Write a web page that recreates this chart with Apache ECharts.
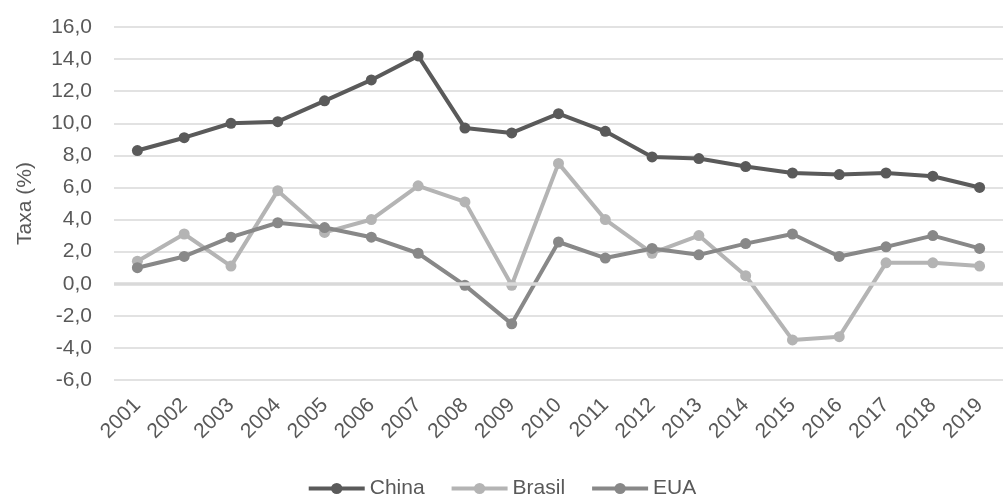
<!DOCTYPE html>
<html>
<head>
<meta charset="utf-8">
<script src="https://cdn.jsdelivr.net/npm/echarts@6/dist/echarts.min.js"></script>
<style>
html,body{margin:0;padding:0;background:#fff;}
#chart{width:1003px;height:500px;}
</style>
</head>
<body>
<div id="chart"></div>
<script>
var years = ['2001','2002','2003','2004','2005','2006','2007','2008','2009','2010','2011','2012','2013','2014','2015','2016','2017','2018','2019'];
var china = [8.3, 9.1, 10.0, 10.1, 11.4, 12.7, 14.2, 9.7, 9.4, 10.6, 9.5, 7.9, 7.8, 7.3, 6.9, 6.8, 6.9, 6.7, 6.0];
var brasil = [1.4, 3.1, 1.1, 5.8, 3.2, 4.0, 6.1, 5.1, -0.1, 7.5, 4.0, 1.9, 3.0, 0.5, -3.5, -3.3, 1.3, 1.3, 1.1];
var eua = [1.0, 1.7, 2.9, 3.8, 3.5, 2.9, 1.9, -0.1, -2.5, 2.6, 1.6, 2.2, 1.8, 2.5, 3.1, 1.7, 2.3, 3.0, 2.2];
var seriesNames = ['China', 'Brasil', 'EUA'];

var colors = ['#5a5a5a', '#b4b4b4', '#888888'];
var txt = '#595959';
var font = 'Liberation Sans';
var fs = 21;

function mk(name, data, color, z) {
  return {
    name: name, type: 'line', data: data, z: z,
    symbol: 'circle', symbolSize: 11,
    lineStyle: { color: color, width: 4 },
    itemStyle: { color: color },
    emphasis: { disabled: true },
    animation: false
  };
}

var chart = echarts.init(document.getElementById('chart'));
chart.setOption({
  animation: false,
  backgroundColor: '#fff',
  grid: { left: 114, right: -14, top: 27, bottom: 120, containLabel: false },
  legend: {
    data: seriesNames,
    top: 473, left: 'center',
    itemWidth: 56, itemHeight: 14, itemGap: 25,
    lineStyle: { width: 4 },
    textStyle: { color: txt, fontSize: fs, fontFamily: font }
  },
  xAxis: {
    type: 'category', data: years, boundaryGap: true,
    axisLine: { show: false }, axisTick: { show: false },
    axisLabel: { rotate: 45, color: txt, fontSize: fs, fontFamily: font, margin: 22, interval: 0 }
  },
  yAxis: {
    type: 'value', min: -6, max: 16, interval: 2,
    name: 'Taxa (%)', nameLocation: 'middle', nameGap: 78,
    nameTextStyle: { color: txt, fontSize: fs, fontFamily: font },
    axisLine: { show: false }, axisTick: { show: false },
    axisLabel: {
      color: txt, fontSize: fs, fontFamily: font, margin: 22,
      formatter: function (v) { return v.toFixed(1).replace('.', ','); }
    },
    splitLine: { lineStyle: { color: '#d9d9d9', width: 1.5 } }
  },
  series: [
    {
      type: 'line', data: [], z: 1, silent: true,
      markLine: {
        silent: true, symbol: 'none', label: { show: false },
        lineStyle: { color: '#d9d9d9', width: 3.5, type: 'solid' },
        data: [{ yAxis: 0 }], animation: false
      }
    },
    mk(seriesNames[0], china, colors[0], 4),
    mk(seriesNames[1], brasil, colors[1], 2),
    mk(seriesNames[2], eua, colors[2], 3)
  ]
});
</script>
</body>
</html>
